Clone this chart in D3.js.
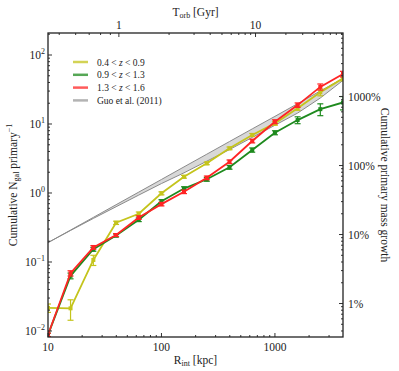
<!DOCTYPE html>
<html>
<head>
<meta charset="utf-8">
<script src="https://cdn.jsdelivr.net/npm/d3@7"></script>
<style>
body { margin: 0; background: #fff; }
text { font-family: "Liberation Serif", "DejaVu Serif", serif; fill: #222; }
</style>
</head>
<body>
<div id="chart"></div>
<script>
// interaction radius bins (kpc)
var rint = [10, 15.8, 25.1, 39.8, 63.1, 100, 158, 251, 398, 631, 1000, 1585, 2512, 3981];

// cumulative N_gal per primary, per redshift bin
var lowZ = [0.0216, 0.0213, 0.107, 0.37, 0.50, 0.99, 1.72, 2.69, 4.44, 6.93, 10.2, 16.9, 28.8, 45.9];
var lowZErr = [0.003, 0.007, 0.018, 0.02, 0.03, 0.05, 0.08, 0.12, 0.2, 0.35, 0.6, 1.1, 3.2, 3.7];
var midZ = [0.0088, 0.063, 0.153, 0.242, 0.41, 0.76, 1.16, 1.58, 2.36, 4.2, 7.48, 11.4, 16.4, 20.5];
var midZErr = [0.0005, 0.006, 0.01, 0.012, 0.025, 0.04, 0.07, 0.1, 0.15, 0.3, 0.5, 1.3, 3.2, 4.5];
var highZ = [0.0088, 0.0686, 0.163, 0.246, 0.44, 0.69, 1.04, 1.66, 2.84, 5.67, 10.8, 18.8, 34.5, 53];
var highZErr = [0.0005, 0.006, 0.01, 0.012, 0.025, 0.04, 0.06, 0.1, 0.17, 0.35, 0.7, 1.4, 3.5, 5];

// Guo et al. (2011) band
var guoHi = [0.191, 0.290, 0.443, 0.676, 1.03, 1.57, 2.39, 3.65, 5.57, 8.49, 12.9, 19.7, 30.1, 45.9];
var guoLo = [0.191, 0.286, 0.428, 0.632, 0.933, 1.37, 1.96, 2.89, 4.26, 6.39, 9.59, 14.4, 23.8, 42.9];

var legendLabels = [["0.4 < ", "z", " < 0.9"], ["0.9 < ", "z", " < 1.3"], ["1.3 < ", "z", " < 1.6"], ["Guo et al. (2011)"]];

// tick labels
var leftTicks = [0.01, 0.1, 1, 10, 100];
var rightTicks = [0.01, 0.1, 1, 10];
var topLabels = [1, 10];
var bottomTicks = [10, 100, 1000];

// mass growth = 0.4 * N_gal ; orbital time from an NFW-like profile
var massFactor = 0.4;
var rScale = 200, tNorm = 2088;

var margin = {top: 33, right: 56, bottom: 34, left: 48},
    width = 399 - margin.left - margin.right,
    height = 371 - margin.top - margin.bottom;

var svg = d3.select("#chart").append("svg")
    .attr("width", 399)
    .attr("height", 371)
  .append("g")
    .attr("transform", "translate(" + margin.left + "," + margin.top + ")");

var x = d3.scaleLog().domain([10, 3981]).range([0, width]);
var y = d3.scaleLog().domain([0.00818, 208.4]).range([height, 0]);
var yR = d3.scaleLog().domain([0.00818 * massFactor, 208.4 * massFactor]).range([height, 0]);

function torb(r) {
  var s = r / rScale;
  var m = Math.log(1 + s) - s / (1 + s);
  return Math.pow(r, 1.5) / Math.sqrt(m) / tNorm;
}
function rOfT(t) {
  var lo = 0, hi = 5;
  for (var k = 0; k < 60; k++) {
    var mid = (lo + hi) / 2;
    if (torb(Math.pow(10, mid)) < t) lo = mid; else hi = mid;
  }
  return Math.pow(10, (lo + hi) / 2);
}

function minorTicks(dom) {
  var out = [];
  var a = Math.floor(Math.log10(dom[0])), b = Math.ceil(Math.log10(dom[1]));
  for (var e = a; e <= b; e++) {
    for (var k = 1; k < 10; k++) {
      var v = k * Math.pow(10, e);
      if (v >= dom[0] && v <= dom[1]) out.push({v: v, major: k == 1});
    }
  }
  return out;
}

var clip = svg.append("clipPath").attr("id", "clip")
  .append("rect").attr("width", width).attr("height", height);

var plot = svg.append("g").attr("clip-path", "url(#clip)");

// Guo band
var idx = d3.range(rint.length);
plot.append("path")
    .attr("fill", "#c8c8c8")
    .attr("fill-opacity", 0.7)
    .attr("d", d3.area()
      .x(function(i) { return x(rint[i]); })
      .y0(function(i) { return y(guoLo[i]); })
      .y1(function(i) { return y(guoHi[i]); })(idx));
[guoHi, guoLo].forEach(function(arr) {
  plot.append("path")
      .attr("fill", "none")
      .attr("stroke", "#8a8a8a")
      .attr("stroke-width", 1)
      .attr("d", d3.line()
        .x(function(i) { return x(rint[i]); })
        .y(function(i) { return y(arr[i]); })(idx));
});

var series = [
  {vals: lowZ, err: lowZErr, color: "#c4c41c"},
  {vals: midZ, err: midZErr, color: "#1e8a1e"},
  {vals: highZ, err: highZErr, color: "#ff2424"}
];

series.forEach(function(s) {
  var g = plot.append("g");
  g.append("path")
      .attr("fill", "none")
      .attr("stroke", s.color)
      .attr("stroke-width", 1.8)
      .attr("d", d3.line()
        .x(function(i) { return x(rint[i]); })
        .y(function(i) { return y(s.vals[i]); })(idx));
  idx.forEach(function(i) {
    var cx = x(rint[i]);
    var lo = y(Math.max(s.vals[i] - s.err[i], 1e-4)), hi = y(s.vals[i] + s.err[i]);
    g.append("line").attr("x1", cx).attr("x2", cx).attr("y1", lo).attr("y2", hi)
        .attr("stroke", s.color).attr("stroke-width", 1.2);
    [lo, hi].forEach(function(yy) {
      g.append("line").attr("x1", cx - 3).attr("x2", cx + 3).attr("y1", yy).attr("y2", yy)
          .attr("stroke", s.color).attr("stroke-width", 1.2);
    });
    g.append("rect")
        .attr("x", cx - 2).attr("y", y(s.vals[i]) - 2)
        .attr("width", 4).attr("height", 4)
        .attr("fill", s.color);
  });
});

// ticks (pointing inward)
var tickCol = "#333";
minorTicks(x.domain()).forEach(function(t) {
  var len = t.major ? 4 : 2;
  svg.append("line").attr("x1", x(t.v)).attr("x2", x(t.v))
      .attr("y1", height).attr("y2", height - len).attr("stroke", tickCol);
});
minorTicks(y.domain()).forEach(function(t) {
  var len = t.major ? 4 : 2;
  svg.append("line").attr("x1", 0).attr("x2", len)
      .attr("y1", y(t.v)).attr("y2", y(t.v)).attr("stroke", tickCol);
});
minorTicks(yR.domain()).forEach(function(t) {
  var len = t.major ? 4 : 2;
  svg.append("line").attr("x1", width).attr("x2", width - len)
      .attr("y1", yR(t.v)).attr("y2", yR(t.v)).attr("stroke", tickCol);
});
var tDom = [torb(10), torb(3981)];
minorTicks(tDom).forEach(function(t) {
  var len = t.major ? 4 : 2;
  var px = x(rOfT(t.v));
  svg.append("line").attr("x1", px).attr("x2", px)
      .attr("y1", 0).attr("y2", len).attr("stroke", tickCol);
});

// frame
svg.append("rect").attr("width", width).attr("height", height)
    .attr("fill", "none").attr("stroke", "#222").attr("stroke-width", 1.3);

// tick labels
bottomTicks.forEach(function(v) {
  svg.append("text").attr("x", x(v)).attr("y", height + 14)
      .attr("text-anchor", "middle").style("font-size", "11.5px").text(v);
});
topLabels.forEach(function(v) {
  svg.append("text").attr("x", x(rOfT(v))).attr("y", -4)
      .attr("text-anchor", "middle").style("font-size", "11.5px").text(v);
});
leftTicks.forEach(function(v) {
  var e = Math.round(Math.log10(v));
  var t = svg.append("text").attr("x", -3).attr("y", y(v) + 4)
      .attr("text-anchor", "end").style("font-size", "11.5px");
  t.append("tspan").text("10");
  t.append("tspan").attr("dy", -5).style("font-size", "8px")
      .text(String(e).replace("-", "\u2212"));
});
rightTicks.forEach(function(v) {
  svg.append("text").attr("x", width + 5).attr("y", yR(v) + 4)
      .style("font-size", "11.5px").text(Math.round(v * 100) + "%");
});

// axis titles
var xl = svg.append("text").attr("x", width / 2).attr("y", height + 27)
    .attr("text-anchor", "middle").style("font-size", "11.5px");
xl.append("tspan").text("R");
xl.append("tspan").attr("dy", 2).style("font-size", "8px").text("int");
xl.append("tspan").attr("dy", -2).text(" [kpc]");

var tl = svg.append("text").attr("x", width / 2).attr("y", -17)
    .attr("text-anchor", "middle").style("font-size", "11.5px");
tl.append("tspan").text("T");
tl.append("tspan").attr("dy", 2).style("font-size", "8px").text("orb");
tl.append("tspan").attr("dy", -2).text(" [Gyr]");

var yl = svg.append("text")
    .attr("transform", "translate(" + (-31) + "," + (height / 2) + ") rotate(-90)")
    .attr("text-anchor", "middle").style("font-size", "11.5px");
yl.append("tspan").text("Cumulative N");
yl.append("tspan").attr("dy", 2).style("font-size", "8px").text("gal");
yl.append("tspan").attr("dy", -2).text(" primary");
yl.append("tspan").attr("dy", -5).style("font-size", "8px").text("\u22121");

svg.append("text")
    .attr("transform", "translate(" + (width + 38) + "," + (height / 2) + ") rotate(90)")
    .attr("text-anchor", "middle").style("font-size", "11.5px")
    .text("Cumulative primary mass growth");

// legend
var legColors = ["#c4c41c", "#1e8a1e", "#ff2424", "#9a9a9a"];
legendLabels.forEach(function(lab, i) {
  var ly = 29 + i * 12.8;
  svg.append("line").attr("x1", 25).attr("x2", 40).attr("y1", ly).attr("y2", ly)
      .attr("stroke", legColors[i]).attr("stroke-opacity", 0.75).attr("stroke-width", 2.5);
  var t = svg.append("text").attr("x", 49).attr("y", ly + 3.5).style("font-size", "9.5px");
  lab.forEach(function(part, j) {
    var sp = t.append("tspan").text(part);
    if (j == 1) sp.style("font-style", "italic");
  });
});
</script>
</body>
</html>
